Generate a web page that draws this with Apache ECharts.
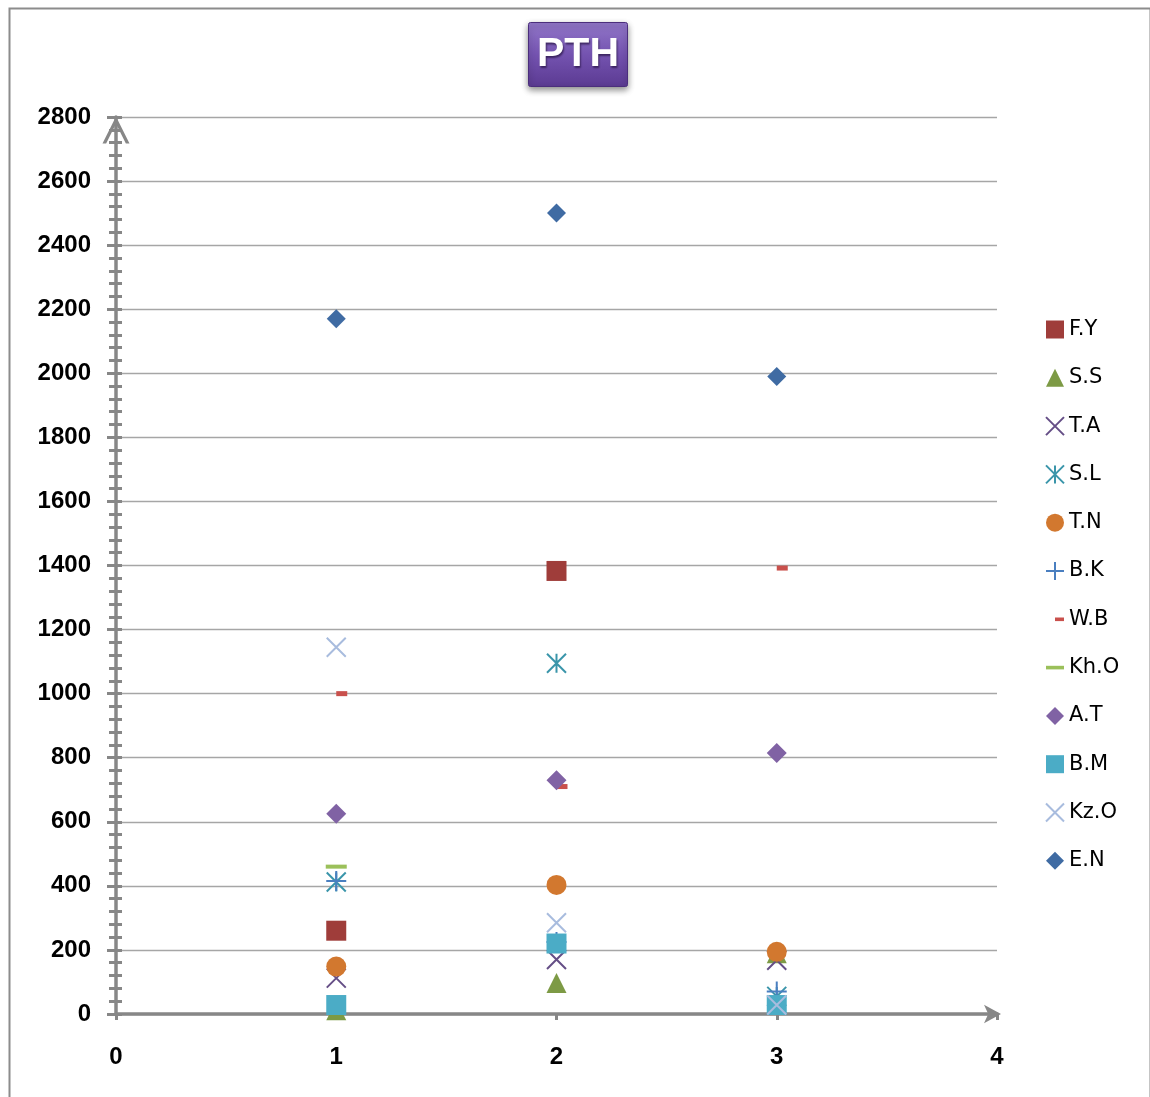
<!DOCTYPE html>
<html>
<head>
<meta charset="utf-8">
<title>PTH</title>
<script src="https://cdn.jsdelivr.net/npm/echarts@6/dist/echarts.min.js"></script>
<style>
  html, body { margin: 0; padding: 0; background: #ffffff; }
  #chart { width: 1150px; height: 1097px; }
</style>
</head>
<body>
<div id="chart"></div>
<script>
// Sample positions on the x axis
const xPositions = [1, 2, 3];

// PTH values per person (null = no reading)
const FY  = [260, 1383, null];
const SS  = [12, 97, 190];
const TA  = [112, 170, 168];
const SL  = [412, 1095, 55];
const TN  = [148, 403, 194];
const BK  = [415, 225, 70];
const WB  = [1000, 710, 1392];
const KhO = [460, null, null];
const AT  = [625, 730, 815];
const BM  = [28, 220, 28];
const KzO = [1145, 285, 28];
const EN  = [2170, 2500, 1990];

// Axis ranges and tick steps
const xAxisRange = [0, 4, 1];
const yAxisRange = [0, 2800, 200];

// Marker outlines
const CROSS = 'path://M0,0L10,10M10,0L0,10';
const STAR  = 'path://M0,0L10,10M10,0L0,10M5,0L5,10';
const PLUS  = 'path://M5,0L5,10M0,5L10,5';
const HALF_DASH = 'path://M0,2L0,2M10,0L20,0L20,4L10,4Z';
const DASH = 'path://M0,0L20,0L20,4L0,4Z';
const CHEVRON = 'path://M0,26L13,0L26,26L22.5,26L13,7L3.5,26Z';

const axisGray = '#878787';

function points(vals) {
  const out = [];
  vals.forEach((v, i) => { if (v !== null) out.push([xPositions[i], v]); });
  return out;
}

function filled(name, vals, symbol, size, color) {
  return {
    name, type: 'scatter', data: points(vals),
    symbol, symbolSize: size,
    itemStyle: { color, opacity: 1 },
    emphasis: { disabled: true }
  };
}

function outlined(name, vals, symbol, size, color) {
  return {
    name, type: 'scatter', data: points(vals),
    symbol, symbolSize: size,
    itemStyle: { color: 'rgba(0,0,0,0)', borderColor: color, borderWidth: 2, opacity: 1 },
    emphasis: { disabled: true }
  };
}

const series = [
  filled('F.Y', FY, 'rect', 20, '#9f3d3a'),
  filled('S.S', SS, 'triangle', 20, '#7d9a45'),
  outlined('T.A', TA, CROSS, 19, '#654e86'),
  outlined('S.L', SL, STAR, 19, '#3a95aa'),
  filled('T.N', TN, 'circle', 20, '#d2782f'),
  outlined('B.K', BK, PLUS, 20, '#4a7fc0'),
  filled('W.B', WB, HALF_DASH, [22, 5], '#c9504c'),
  filled('Kh.O', KhO, DASH, [21, 4], '#9bc05a'),
  filled('A.T', AT, 'diamond', 20, '#8062a4'),
  filled('B.M', BM, 'rect', 20, '#4bacc6'),
  outlined('Kz.O', KzO, CROSS, 19, '#a8bcde'),
  filled('E.N', EN, 'diamond', 19, '#3f6ba3')
];

const labelFont = {
  fontFamily: '"Liberation Sans", Arial, sans-serif',
  fontWeight: 'bold',
  fontSize: 24,
  color: '#000000'
};

const chart = echarts.init(document.getElementById('chart'), null, { renderer: 'canvas' });

chart.setOption({
  backgroundColor: '#ffffff',
  animation: false,
  title: {
    text: 'PTH',
    left: 528,
    top: 22,
    padding: [12, 9, 12, 9],
    backgroundColor: new echarts.graphic.LinearGradient(0, 0, 0, 1, [
      { offset: 0, color: '#9277c9' },
      { offset: 0.5, color: '#7453b0' },
      { offset: 1, color: '#5b3a92' }
    ]),
    borderColor: '#4b2e7c',
    borderWidth: 1,
    borderRadius: 2,
    shadowColor: 'rgba(0,0,0,0.45)',
    shadowBlur: 6,
    shadowOffsetY: 3,
    textStyle: {
      fontFamily: '"Liberation Sans", Arial, sans-serif',
      fontWeight: 'bold',
      fontSize: 41,
      lineHeight: 41,
      color: '#ffffff',
      textShadowColor: 'rgba(40,20,70,0.75)',
      textShadowBlur: 2,
      textShadowOffsetX: 1,
      textShadowOffsetY: 2
    }
  },
  graphic: [{
    type: 'rect',
    left: 7, top: 6,
    shape: { width: 1141, height: 1110 },
    style: { fill: 'none', stroke: '#8c8c8c', lineWidth: 2 },
    silent: true, z: -10
  }],
  legend: {
    orient: 'vertical',
    left: 1040,
    top: 314,
    itemWidth: 18,
    itemHeight: 18,
    itemGap: 27.3,
    textStyle: {
      fontFamily: '"DejaVu Sans", Verdana, sans-serif',
      fontSize: 21,
      color: '#000000'
    },
    data: series.map(s => s.name)
  },
  grid: { left: 116, right: 153, top: 117, bottom: 83, containLabel: false },
  xAxis: {
    type: 'value',
    min: xAxisRange[0], max: xAxisRange[1], interval: xAxisRange[2],
    axisLine: {
      show: true, onZero: false,
      symbol: ['none', 'arrow'], symbolSize: [14, 17], symbolOffset: [0, 4],
      lineStyle: { color: axisGray, width: 3.5 }
    },
    axisTick: { show: true, inside: false, length: 6, lineStyle: { color: axisGray, width: 3 } },
    splitLine: { show: false },
    axisLabel: Object.assign({ margin: 31, formatter: v => String(v) }, labelFont)
  },
  yAxis: [{
    type: 'value',
    position: 'left',
    min: yAxisRange[0], max: yAxisRange[1], interval: yAxisRange[2],
    axisLine: {
      show: true, onZero: false,
      symbol: ['none', CHEVRON], symbolSize: [29, 27], symbolOffset: [0, -13],
      lineStyle: { color: axisGray, width: 3.5 }
    },
    axisTick: { show: true, inside: false, length: 9, lineStyle: { color: axisGray, width: 3 } },
    minorTick: { show: true, splitNumber: 5, length: 7, lineStyle: { color: axisGray, width: 3 } },
    splitLine: { show: true, lineStyle: { color: '#a6a6a6', width: 1.3 } },
    axisLabel: Object.assign({ margin: 25, formatter: v => String(v) }, labelFont)
  }, {
    // inner half of the crossing tick marks
    type: 'value',
    position: 'left',
    offset: 0,
    min: yAxisRange[0], max: yAxisRange[1], interval: yAxisRange[2],
    axisLine: { show: false },
    axisTick: { show: true, inside: true, length: 6, lineStyle: { color: axisGray, width: 3 } },
    minorTick: { show: true, splitNumber: 5, length: 6, lineStyle: { color: axisGray, width: 3 } },
    splitLine: { show: false },
    axisLabel: { show: false }
  }],
  series: series
});
</script>
</body>
</html>
